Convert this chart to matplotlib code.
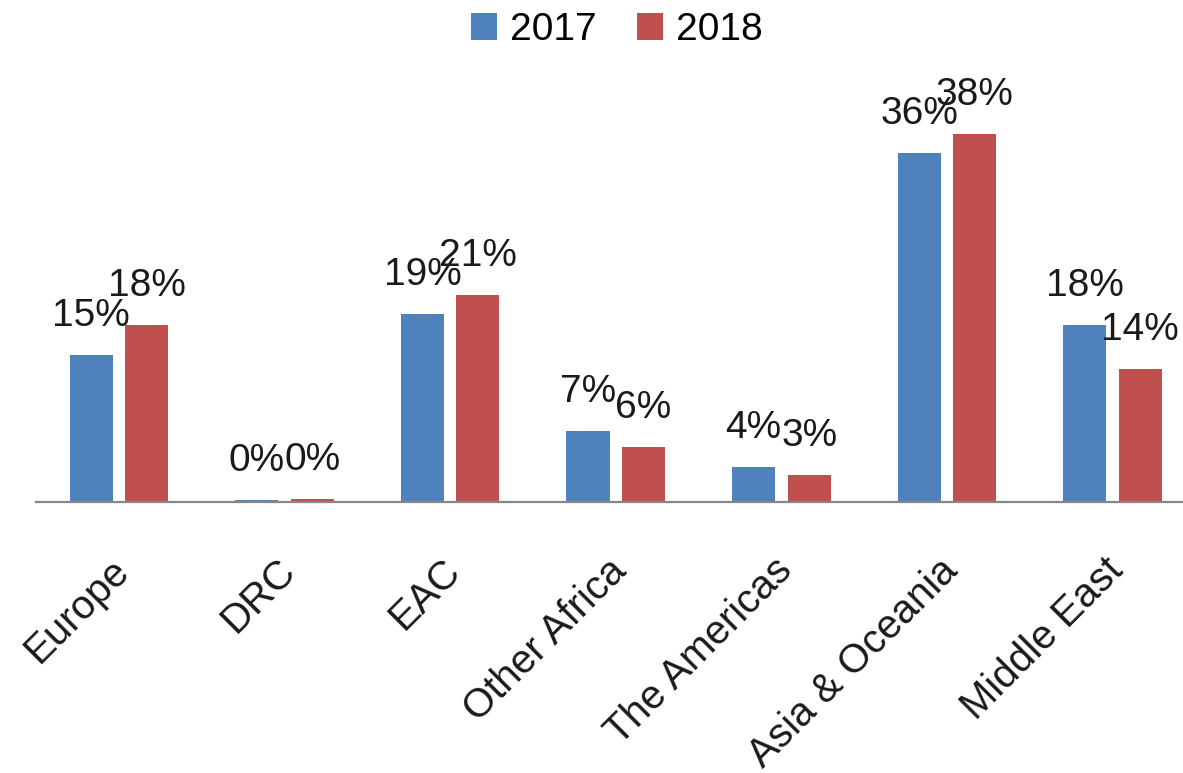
import matplotlib.pyplot as plt
import numpy as np
from matplotlib.transforms import ScaledTranslation

plt.rcParams['font.family'] = ['Liberation Sans', 'DejaVu Sans']

regions = ['Europe', 'DRC', 'EAC', 'Other Africa', 'The Americas', 'Asia & Oceania', 'Middle East']
share_2017 = [15.2, 0.2, 19.4, 7.3, 3.6, 36.0, 18.3]
share_2018 = [18.3, 0.3, 21.4, 5.7, 2.8, 38.0, 13.7]

blue = '#4F81BD'
red = '#C0504D'

fig = plt.figure(figsize=(11.83, 7.73), dpi=100)
# plot area runs a bit past the right edge, like the cropped original
ax = fig.add_axes([35.7 / 1183, 271 / 773, 1159.3 / 1183, 387.4 / 773])

x = np.arange(len(regions))
w = 0.26
b1 = ax.bar(x - 0.165, share_2017, w, color=blue, label='2017')
b2 = ax.bar(x + 0.17, share_2018, w, color=red, label='2018')

for bars, vals in [(b1, share_2017), (b2, share_2018)]:
    for rect, v in zip(bars, vals):
        ax.annotate(f'{v:.0f}%', (rect.get_x() + rect.get_width() / 2, v),
                    xytext=(0, 21), textcoords='offset points',
                    ha='center', va='baseline', fontsize=28, color='#1a1a1a')

ax.set_xlim(-0.5, 6.5)
ax.set_ylim(0, 40)
ax.set_yticks([])
for s in ['top', 'right', 'left']:
    ax.spines[s].set_visible(False)
ax.spines['bottom'].set_color('#868686')
ax.spines['bottom'].set_linewidth(1.6)

ax.set_xticks(x)
ax.set_xticklabels(regions, rotation=45, ha='right', va='center',
                   rotation_mode='anchor', fontsize=29, color='#1a1a1a')
ax.tick_params(axis='x', length=0, pad=45)
# nudge labels a little right so their ends sit just past the group centre
for lbl in ax.get_xticklabels():
    lbl.set_transform(lbl.get_transform() + ScaledTranslation(0.05, 0, fig.dpi_scale_trans))

fig.legend(loc='center', bbox_to_anchor=(617 / 1183, 1 - 30 / 773), ncol=2,
           frameon=False, fontsize=28, handlelength=0.67, handleheight=0.67,
           handletextpad=0.33, columnspacing=1.03)

fig.savefig('out.png', dpi=100)
